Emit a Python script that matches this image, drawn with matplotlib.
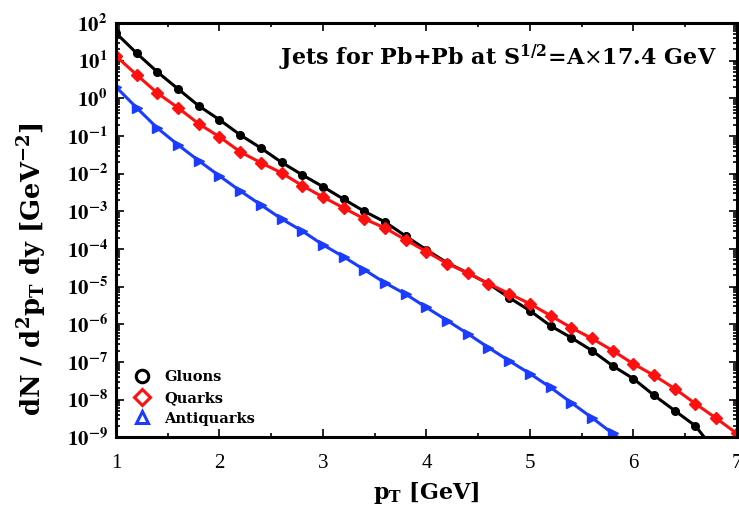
import matplotlib
matplotlib.use("Agg")
import matplotlib.pyplot as plt
from matplotlib.lines import Line2D
from matplotlib.ticker import MultipleLocator, LogLocator, NullFormatter


# p_T grid of the markers [GeV]
pt_gluons = [1.0, 1.2, 1.4, 1.6, 1.8, 2.0, 2.2, 2.4, 2.6, 2.8, 3.0, 3.2, 3.4, 3.6, 3.8,
             4.0, 4.2, 4.4, 4.6, 4.8, 5.0, 5.2, 5.4, 5.6, 5.8, 6.0, 6.2, 6.4, 6.6, 6.8]
pt_quarks = [1.0, 1.2, 1.4, 1.6, 1.8, 2.0, 2.2, 2.4, 2.6, 2.8, 3.0, 3.2, 3.4, 3.6, 3.8,
             4.0, 4.2, 4.4, 4.6, 4.8, 5.0, 5.2, 5.4, 5.6, 5.8, 6.0, 6.2, 6.4, 6.6, 6.8, 7.0]
pt_antiquarks = [1.0, 1.2, 1.4, 1.6, 1.8, 2.0, 2.2, 2.4, 2.6, 2.8, 3.0, 3.2, 3.4, 3.6, 3.8,
                 4.0, 4.2, 4.4, 4.6, 4.8, 5.0, 5.2, 5.4, 5.6, 5.8, 6.0]

# dN / d^2p_T dy [GeV^-2]
gluons = [54, 15.8, 5.0, 1.78, 0.63, 0.27, 0.107, 0.048, 0.020, 9.3e-3,
          4.5e-3, 2.1e-3, 1.0e-3, 5.2e-4, 2.2e-4, 9.5e-5, 4.3e-5, 2.3e-5, 1.2e-5, 5.1e-6,
          2.3e-6, 9.1e-7, 4.4e-7, 2.0e-7, 7.9e-8, 3.6e-8, 1.3e-8, 5.1e-9, 2.0e-9, 4e-10]
quarks = [13.2, 4.2, 1.38, 0.56, 0.21, 0.095, 0.038, 0.0195, 0.0105, 4.8e-3,
          2.4e-3, 1.23e-3, 6.3e-4, 3.6e-4, 1.74e-4, 8.5e-5, 4.1e-5, 2.3e-5, 1.2e-5, 6.5e-6,
          3.5e-6, 1.7e-6, 8.1e-7, 4.2e-7, 2.0e-7, 8.9e-8, 4.4e-8, 1.95e-8, 7.8e-9, 3.2e-9, 1.26e-9]
antiquarks = [2.0, 0.56, 0.162, 0.058, 0.022, 8.7e-3, 3.5e-3, 1.48e-3, 6.3e-4, 3.0e-4,
              1.29e-4, 6.2e-5, 2.8e-5, 1.26e-5, 6.3e-6, 2.8e-6, 1.26e-6, 5.6e-7, 2.4e-7, 1.07e-7,
              4.9e-8, 2.1e-8, 8.3e-9, 3.3e-9, 1.26e-9, 5e-10]

series_names = ["Gluons", "Quarks", "Antiquarks"]
x_ticks = [1, 2, 3, 4, 5, 6, 7]
y_exponents = [2, 1, 0, -1, -2, -3, -4, -5, -6, -7, -8, -9]

BLACK = "black"
RED = "#ff1010"
BLUE = "#1a3cff"
WIDE = ["DejaVu Serif"]

plt.rcParams["font.family"] = ["Liberation Serif", "DejaVu Serif"]
plt.rcParams["mathtext.fontset"] = "stix"

fig = plt.figure(figsize=(7.39, 5.12), dpi=100)
ax = fig.add_axes([0.157, 0.146, 0.84, 0.809])

ax.plot(pt_gluons, gluons, color=BLACK, lw=2.2, marker="o", ms=5.5)
ax.plot(pt_quarks, quarks, color=RED, lw=2.2, marker="D", ms=6)
ax.plot(pt_antiquarks, antiquarks, color=BLUE, lw=2.2, marker=">", ms=6.5)

ax.set_yscale("log")
ax.set_xlim(1, 7)
ax.set_ylim(1e-9, 1e2)

ax.set_xticks(x_ticks)
ax.set_xticklabels([str(t) for t in x_ticks], fontsize=15)
ax.xaxis.set_minor_locator(MultipleLocator(0.5))

ax.set_yticks([10.0 ** e for e in y_exponents])
ax.set_yticklabels([r"$\mathbf{10^{%d}}$" % e for e in y_exponents], fontsize=15)
ax.yaxis.set_minor_locator(LogLocator(base=10, subs=range(2, 10), numticks=20))
ax.yaxis.set_minor_formatter(NullFormatter())

ax.tick_params(which="both", direction="in", top=True, right=True, width=1.2)
ax.tick_params(which="major", length=6)
ax.tick_params(axis="x", which="major", pad=12)
ax.tick_params(axis="y", which="major", pad=6)
ax.tick_params(which="minor", length=3)
for sp in ax.spines.values():
    sp.set_linewidth(2.2)

ax.set_xlabel(r"$\mathbf{p_T}$ [GeV]", fontsize=16, fontweight="bold", labelpad=5,
              family=WIDE, math_fontfamily="dejavuserif")
ax.set_ylabel(r"dN / d$\mathbf{^2}$p$\mathbf{_T}$ dy [GeV$\mathbf{^{-2}}$]",
              fontsize=18.5, fontweight="bold",
              family=WIDE, math_fontfamily="dejavuserif")
ax.yaxis.set_label_coords(-0.108, 0.405)

ax.text(0.968, 0.915, r"Jets for Pb+Pb at S$\mathbf{^{1/2}}$=A$\times$17.4 GeV",
        transform=ax.transAxes, ha="right", va="center", fontsize=16, fontweight="bold",
        family=WIDE, math_fontfamily="dejavuserif")

handles = [
    Line2D([], [], ls="none", marker="o", ms=9, mfc="none", mec=BLACK, mew=2.2),
    Line2D([], [], ls="none", marker="D", ms=8, mfc="none", mec=RED, mew=2.2),
    Line2D([], [], ls="none", marker="^", ms=9, mfc="none", mec=BLUE, mew=2.2),
]
ax.legend(handles, series_names, loc="lower left", bbox_to_anchor=(0.0, 0.0),
          frameon=False, prop={"size": 10.5, "weight": "bold", "family": WIDE},
          handletextpad=0.5, labelspacing=0.45, borderaxespad=0.4)

fig.savefig("out.png", dpi=100)
